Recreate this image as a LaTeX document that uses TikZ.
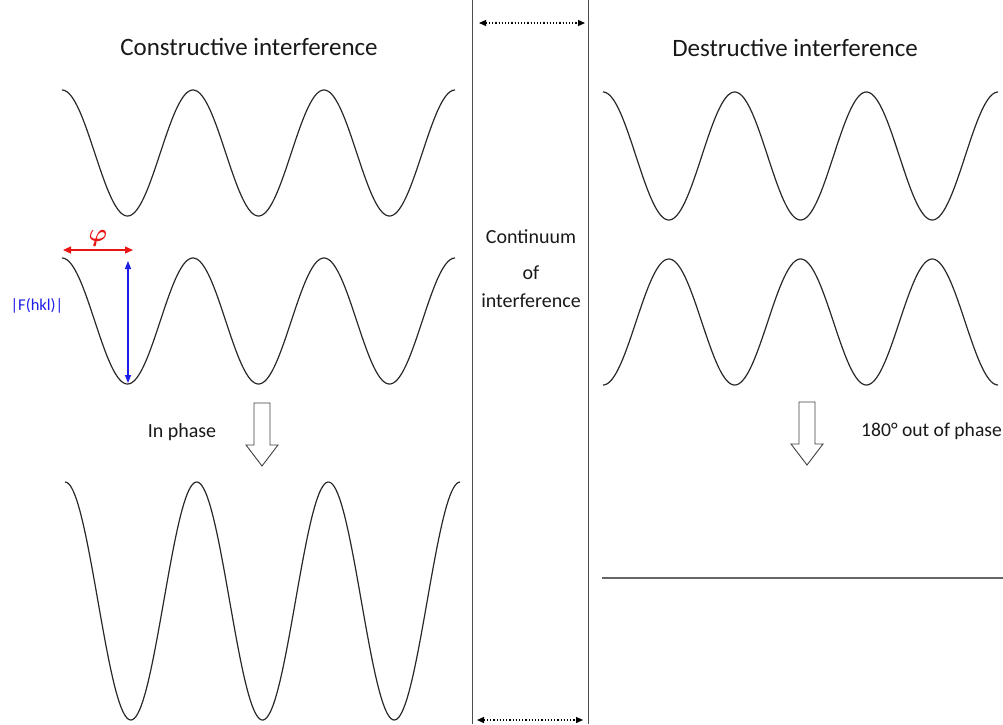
\documentclass[tikz,border=0pt]{standalone}
\usepackage{fontspec}
\usepackage{amsmath,amssymb}
\setmainfont{Carlito}
\usetikzlibrary{arrows.meta}
\definecolor{wavecol}{RGB}{40,40,40}
\definecolor{fblue}{RGB}{30,30,235}
\definecolor{phired}{RGB}{235,20,20}
\begin{document}
\begin{tikzpicture}[x=1pt,y=-1pt,
  wave/.style={draw=wavecol,line width=1.2pt},
  title/.style={font=\fontsize{25}{30}\selectfont,text=black!90},
  lbl/.style={font=\fontsize{20}{24}\selectfont,text=black!90},
  hollow/.style={draw=black!75,line width=0.9pt,fill=white,line join=miter},
  dotarrow/.style={dotted,line width=1.2pt,{Triangle[length=7pt,width=6pt]}-{Triangle[length=7pt,width=6pt]}}
]
\useasboundingbox (0,0) rectangle (1003,724);
% titles
\node[title] (t1) at (249,47) {Constructive interference};
\node[title] (t2) at (795,48) {Destructive interference};
% left waves (period 131 px)
\draw[wave] plot[domain=62:455,samples=240] (\x,{153-63*cos((\x-62)*2.74809)});
\draw[wave] plot[domain=62:455,samples=240] (\x,{321-63*cos((\x-62)*2.74809)});
\draw[wave] plot[domain=65:460,samples=240] (\x,{601-119*cos((\x-65)*2.73349)});
% right waves
\draw[wave] plot[domain=603:998,samples=240] (\x,{156-64*cos((\x-603)*2.73349)});
\draw[wave] plot[domain=603:998,samples=240] (\x,{322+63*cos((\x-603)*2.73349)});
\coordinate (fl1) at (602,578);
\coordinate (fl2) at (1003,578);
\draw[draw=black!60,line width=2pt] (fl1) -- (fl2);
% middle band
\coordinate (m1t) at (472,0); \coordinate (m1b) at (472,724);
\coordinate (m2t) at (588,0); \coordinate (m2b) at (588,724);
\draw[draw=black!70,line width=1pt] (m1t) -- (m1b);
\draw[draw=black!70,line width=1pt] (m2t) -- (m2b);
\coordinate (da1) at (479,23); \coordinate (da2) at (585,23);
\coordinate (db1) at (477,720); \coordinate (db2) at (583,720);
\draw[dotarrow] (da1) -- (da2);
\draw[dotarrow] (db1) -- (db2);
\node[lbl] (c1) at (531,237) {Continuum};
\node[lbl] (c2) at (531,273) {of};
\node[lbl] (c3) at (531,301) {interference};
% phi and F(hkl)
\coordinate (p1) at (63,250); \coordinate (p2) at (133,250);
\draw[phired,line width=1.3pt,{Triangle[length=8pt,width=7pt]}-{Triangle[length=8pt,width=7pt]}] (p1) -- (p2);
\node[text=phired,font=\fontsize{28}{30}\selectfont] (phi) at (98,238) {$\boldsymbol{\varphi}$};
\coordinate (f1) at (128,261); \coordinate (f2) at (128,383);
\draw[fblue,line width=1.2pt,{Triangle[length=8pt,width=6pt]}-{Triangle[length=8pt,width=6pt]}] (f1) -- (f2);
\node[text=fblue,font=\fontsize{16.5}{19}\selectfont] (fh) at (37,306) {|F(hkl)|};
% hollow arrows
\draw[hollow] (254,403) -- (270,403) -- (270,445) -- (278,445) -- (262,466) -- (246,445) -- (254,445) -- cycle;
\draw[hollow] (799,402) -- (815,402) -- (815,444) -- (823,444) -- (807,465) -- (791,444) -- (799,444) -- cycle;
\node[lbl] (ip) at (182,432) {In phase};
\node[font=\fontsize{19.6}{22}\selectfont,text=black!90,anchor=west,inner sep=0pt] (op) at (861,431) {180° out of phase};
\end{tikzpicture}
\end{document}
